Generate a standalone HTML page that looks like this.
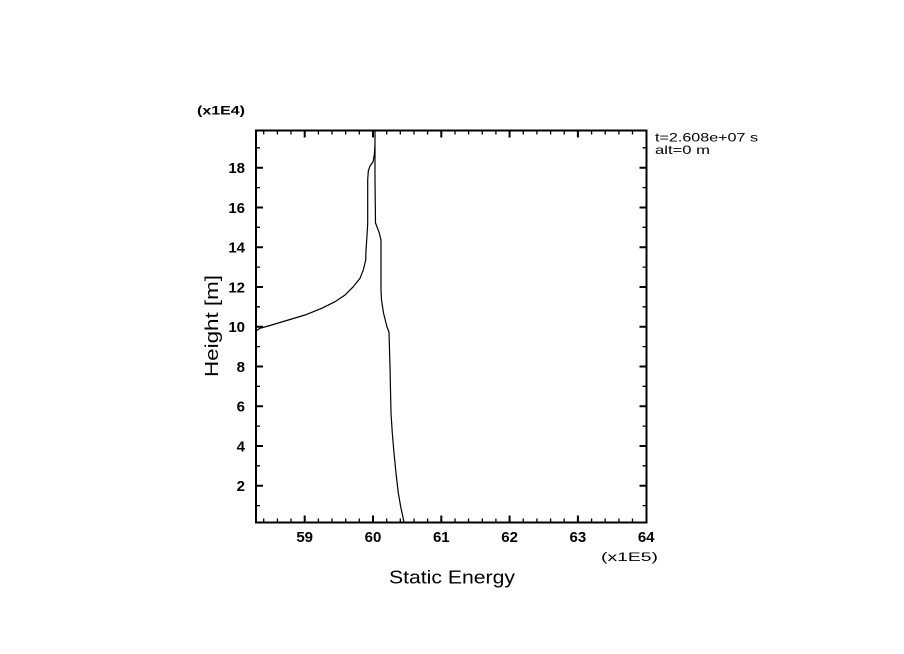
<!DOCTYPE html>
<html><head><meta charset="utf-8"><style>
html,body{margin:0;padding:0;background:#fff;}
svg{display:block;}
</style></head><body>
<svg width="904" height="654" viewBox="0 0 904 654" xmlns="http://www.w3.org/2000/svg">
<rect width="904" height="654" fill="#fff"/>
<g fill="none" stroke="#000">
<rect x="256" y="130.5" width="390.5" height="392" stroke-width="2"/>
<path stroke-width="1.3" d="
M263.7 522.5V518.5 M277.4 522.5V518.5 M291 522.5V518.5 M318.4 522.5V518.5 M332 522.5V518.5 M345.7 522.5V518.5 M359.3 522.5V518.5
M386.7 522.5V518.5 M400.3 522.5V518.5 M414 522.5V518.5 M427.6 522.5V518.5 M455 522.5V518.5 M468.6 522.5V518.5 M482.3 522.5V518.5 M495.9 522.5V518.5
M523.3 522.5V518.5 M536.9 522.5V518.5 M550.6 522.5V518.5 M564.2 522.5V518.5 M591.6 522.5V518.5 M605.2 522.5V518.5 M618.9 522.5V518.5 M632.5 522.5V518.5
M263.7 130.5V134.5 M277.4 130.5V134.5 M291 130.5V134.5 M318.4 130.5V134.5 M332 130.5V134.5 M345.7 130.5V134.5 M359.3 130.5V134.5
M386.7 130.5V134.5 M400.3 130.5V134.5 M414 130.5V134.5 M427.6 130.5V134.5 M455 130.5V134.5 M468.6 130.5V134.5 M482.3 130.5V134.5 M495.9 130.5V134.5
M523.3 130.5V134.5 M536.9 130.5V134.5 M550.6 130.5V134.5 M564.2 130.5V134.5 M591.6 130.5V134.5 M605.2 130.5V134.5 M618.9 130.5V134.5 M632.5 130.5V134.5
M256 505.6H260 M256 465.8H260 M256 426.1H260 M256 386.3H260 M256 346.6H260 M256 306.8H260 M256 267.1H260 M256 227.3H260 M256 187.6H260 M256 147.8H260
M646.5 505.6H642.5 M646.5 465.8H642.5 M646.5 426.1H642.5 M646.5 386.3H642.5 M646.5 346.6H642.5 M646.5 306.8H642.5 M646.5 267.1H642.5 M646.5 227.3H642.5 M646.5 187.6H642.5 M646.5 147.8H642.5
"/>
<path stroke-width="2" d="
M304.7 522.5V515.5 M373 522.5V515.5 M441.3 522.5V515.5 M509.6 522.5V515.5 M577.9 522.5V515.5
M304.7 130.5V137.5 M373 130.5V137.5 M441.3 130.5V137.5 M509.6 130.5V137.5 M577.9 130.5V137.5
M256 485.7H263 M256 446H263 M256 406.2H263 M256 366.5H263 M256 326.7H263 M256 287H263 M256 247.2H263 M256 207.5H263 M256 167.7H263
M646.5 485.7H639.5 M646.5 446H639.5 M646.5 406.2H639.5 M646.5 366.5H639.5 M646.5 326.7H639.5 M646.5 287H639.5 M646.5 247.2H639.5 M646.5 207.5H639.5 M646.5 167.7H639.5
"/>
<polyline stroke-width="1.2" points="404,522 400.7,506.7 398.3,493 396,473 394,453 392.3,433 391,413 390,367 389,332 387,327 383.5,313 381.5,300 381,290 381,240 379,232 375.5,223 375,180 375,131"/>
<polyline stroke-width="1.2" points="375,145 374.3,155 373,162 370,166 368.3,171 367.7,180 367.7,224 366.7,240 366,250 365.7,260 363.3,270 360,278.3 353.3,286.7 345,295 335,301.7 321.7,308.3 305,315 288.3,320 268.3,326 260,328.3 256,331"/>
</g>
<g font-family="Liberation Sans, sans-serif" font-weight="bold" font-size="15" fill="#000" text-anchor="end">
<text x="245" y="491">2</text>
<text x="245" y="451.3">4</text>
<text x="245" y="411.5">6</text>
<text x="245" y="371.8">8</text>
<text x="245" y="332">10</text>
<text x="245" y="292.3">12</text>
<text x="245" y="252.5">14</text>
<text x="245" y="212.8">16</text>
<text x="245" y="173">18</text>
</g>
<g font-family="Liberation Sans, sans-serif" font-weight="bold" font-size="15" fill="#000" text-anchor="middle">
<text x="304.7" y="542">59</text>
<text x="373" y="542">60</text>
<text x="441.3" y="542">61</text>
<text x="509.6" y="542">62</text>
<text x="577.9" y="542">63</text>
<text x="646.2" y="542">64</text>
</g>
<g font-family="Liberation Sans, sans-serif" fill="#000">
<text x="197" y="114.5" font-size="12" font-weight="bold" textLength="48" lengthAdjust="spacingAndGlyphs">(x1E4)</text>
<text x="601" y="561" font-size="11.5" textLength="57" lengthAdjust="spacingAndGlyphs">(x1E5)</text>
<text x="389" y="583.3" font-size="18" textLength="126" lengthAdjust="spacingAndGlyphs">Static Energy</text>
<text transform="translate(218,377) rotate(-90)" x="0" y="0" font-size="18" textLength="102" lengthAdjust="spacingAndGlyphs">Height [m]</text>
<text x="655" y="141.5" font-size="12" textLength="103" lengthAdjust="spacingAndGlyphs">t=2.608e+07 s</text>
<text x="655" y="154" font-size="12" textLength="55" lengthAdjust="spacingAndGlyphs">alt=0 m</text>
</g>
</svg>
</body></html>
